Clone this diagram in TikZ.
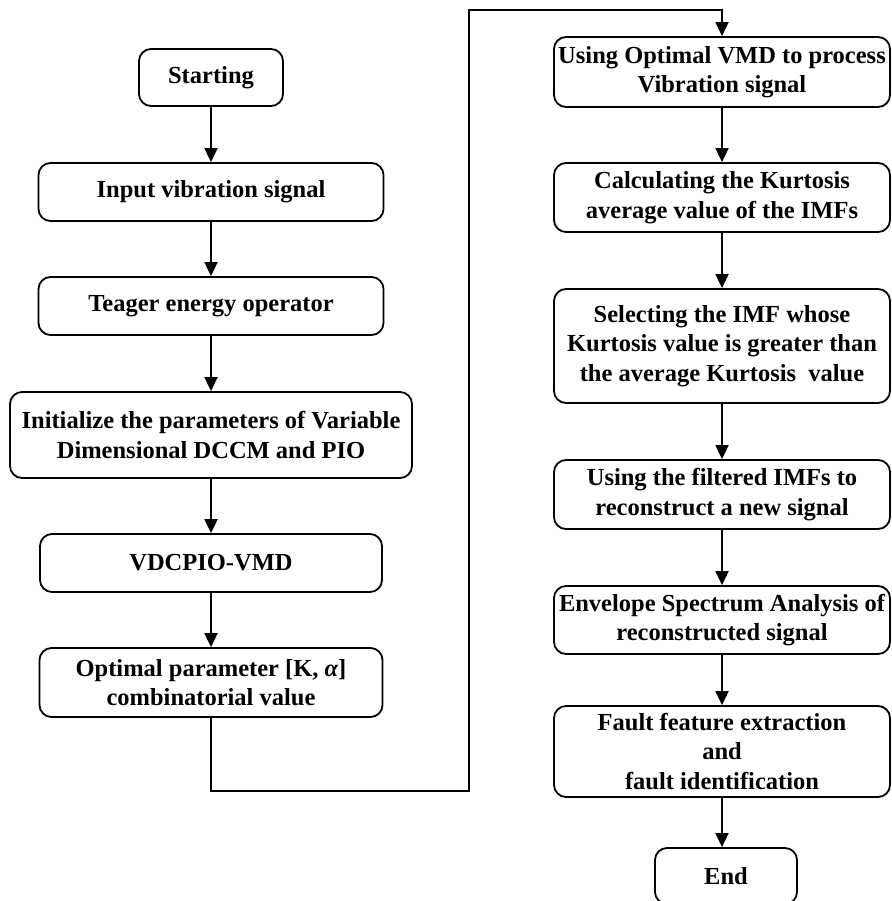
\documentclass[tikz,border=0pt]{standalone}
\usepackage{fontspec}
\setmainfont{Liberation Serif}
\usetikzlibrary{arrows.meta}
\begin{document}
\begin{tikzpicture}[x=1pt,y=-1pt,
  box/.style={draw,line width=1.8pt,rounded corners=12pt,align=center,inner sep=0pt,
    font=\fontsize{24.5}{29.5}\selectfont\bfseries},
  arr/.style={line width=1.8pt,-{Triangle[length=14pt,width=13pt]}}]
\useasboundingbox (0,0) rectangle (891,901);
% left column
\node[box,minimum width=144pt,minimum height=57pt] (start) at (211,77.5) {Starting};
\node[box,minimum width=345pt,minimum height=58pt] (input) at (211,192) {Input vibration signal};
\node[box,minimum width=345pt,minimum height=58pt] (teo) at (211,306) {Teager energy operator};
\node[box,minimum width=402pt,minimum height=86pt] (init) at (211,435) {Initialize the parameters of Variable\\Dimensional DCCM and PIO};
\node[box,minimum width=342pt,minimum height=58pt] (vdc) at (211,563) {VDCPIO-VMD};
\node[box,minimum width=343pt,minimum height=69pt] (opt) at (211,682.5) {Optimal parameter [K, {\itshape α}]\\combinatorial value};
% right column
\node[box,minimum width=336pt,minimum height=70pt] (use) at (722,72) {Using Optimal VMD to process\\Vibration signal};
\node[box,minimum width=336pt,minimum height=69pt] (calc) at (722,197.5) {Calculating the Kurtosis\\average value of the IMFs};
\node[box,minimum width=336pt,minimum height=114pt] (sel) at (722,346) {Selecting the IMF whose\\Kurtosis value is greater than\\the average Kurtosis\ \ value};
\node[box,minimum width=336pt,minimum height=69pt] (filt) at (722,494.5) {Using the filtered IMFs to\\reconstruct a new signal};
\node[box,minimum width=336pt,minimum height=68pt] (env) at (722,620) {Envelope Spectrum Analysis of\\reconstructed signal};
\node[box,minimum width=336pt,minimum height=91pt] (fault) at (722,751.5) {Fault feature extraction\\and\\fault identification};
\node[box,minimum width=142pt,minimum height=56pt] (end) at (726,876) {End};
% connectors
\draw[arr] (start) -- (input);
\draw[arr] (input) -- (teo);
\draw[arr] (teo) -- (init);
\draw[arr] (init) -- (vdc);
\draw[arr] (vdc) -- (opt);
\coordinate (c1) at (469,791);
\coordinate (c2) at (469,10);
\draw[arr] (opt.south) |- (c1) -- (c2) -| (use.north);
\draw[arr] (use) -- (calc);
\draw[arr] (calc) -- (sel);
\draw[arr] (sel) -- (filt);
\draw[arr] (filt) -- (env);
\draw[arr] (env) -- (fault);
\draw[arr] (fault.south) -- (fault.south |- end.north);
\end{tikzpicture}
\end{document}
